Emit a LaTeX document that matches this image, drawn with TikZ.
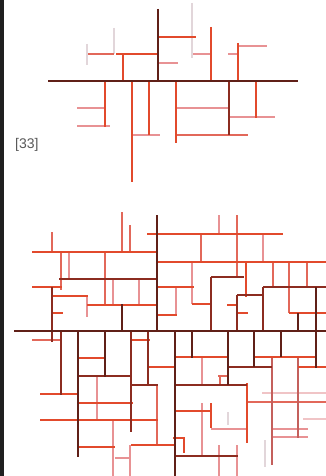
\documentclass[tikz,border=0pt]{standalone}
\usepackage{fontspec}
\newfontfamily\labelfont{Liberation Sans}
\usetikzlibrary{calc}
\definecolor{trunkbrown}{RGB}{96,32,24}
\definecolor{darkred}{RGB}{140,44,32}
\definecolor{brightred}{RGB}{226,74,44}
\definecolor{salmon}{RGB}{226,104,90}
\definecolor{rosebrown}{RGB}{196,96,92}
\definecolor{rosepink}{RGB}{232,146,148}
\definecolor{palepink}{RGB}{240,196,198}
\definecolor{ghost}{RGB}{226,214,218}
\definecolor{stripgray}{RGB}{32,32,32}
\tikzset{
  trunk/.style={trunkbrown,line width=2.7pt},
  branch/.style={darkred,line width=2.4pt},
  twig/.style={brightred,line width=2.3pt},
  shoot/.style={salmon,line width=2.1pt},
  stem/.style={rosebrown,line width=2.1pt},
  leaf/.style={rosepink,line width=1.9pt},
  paleleaf/.style={palepink,line width=1.7pt},
  ghostleaf/.style={ghost,line width=1.3pt}
}

\begin{document}
\begin{tikzpicture}[x=1pt,y=-1pt]
  \useasboundingbox (0,0) rectangle (326,476);
  \fill[white] (0,0) rectangle (326,476);
  \fill[stripgray] (0,0) rectangle (3.5,476);
  \node[font=\labelfont\fontsize{14}{16}\selectfont,text=black!65,anchor=west,inner sep=0pt] (fig33) at (15,145) {[33]};

  % small tree
  \begin{scope}
    \draw[ghostleaf] (192,3)--(192,58) (114,28)--(114,54) (87,44)--(87,65);
    \draw[leaf] (158,63)--(178,63) (193,54)--(211,54) (228,54)--(238,54) (238,46)--(267,46)
      (77,108)--(105,108) (77,126)--(110,126) (132,135)--(160,135)
      (176,108)--(229,108) (229,117)--(275,117);
    \draw[shoot] (88,54)--(114,54) (176,135)--(248,135);
    \draw[twig] (158,37)--(196,37) (116,54)--(158,54) (123,54)--(123,81) (211,27)--(211,81)
      (238,43)--(238,81) (105,81)--(105,127) (132,81)--(132,182) (149,81)--(149,135)
      (176,81)--(176,143) (256,81)--(256,118);
    \draw[branch] (229,81)--(229,135);
    \draw[trunk] (48,81)--(298,81) (158,9)--(158,81);
  \end{scope}

  % large tree
  \begin{scope}
    \draw[ghostleaf] (265,440)--(265,467) (228,412)--(228,425);
    \draw[paleleaf] (262,393)--(326,393) (303,419)--(326,419);
    \draw[leaf] (69,252)--(69,278) (113,279)--(113,305) (139,279)--(139,305) (87,296)--(87,317)
      (219,215)--(219,234) (263,234)--(263,262) (192,262)--(192,304) (176,287)--(176,315)
      (97,376)--(97,420) (113,420)--(113,476) (115,458)--(130,458) (130,445)--(130,476)
      (202,357)--(202,385) (202,403)--(202,457) (211,429)--(247,429) (219,445)--(219,476)
      (237,445)--(237,476) (273,429)--(308,429) (273,437)--(308,437);
    \draw[shoot] (122,212)--(122,252) (130,225)--(130,252) (52,232)--(52,252) (105,252)--(105,305)
      (61,252)--(61,290) (237,215)--(237,278) (201,234)--(201,262) (273,262)--(273,287)
      (289,262)--(289,313) (307,262)--(307,287) (32,340)--(62,340) (157,385)--(157,445)
      (247,402)--(326,402) (218,376)--(228,376) (220,376)--(220,385);
    \draw[stem] (298,357)--(298,438) (272,357)--(272,465);
    \draw[twig] (32,252)--(157,252) (147,234)--(283,234) (157,262)--(326,262) (32,287)--(62,287)
      (52,296)--(88,296) (87,305)--(157,305) (52,313)--(63,313) (157,287)--(194,287)
      (157,315)--(177,315) (192,304)--(210,304) (227,305)--(237,305) (237,313)--(248,313)
      (289,313)--(326,313) (246,262)--(246,297)
      (40,394)--(79,394) (77,358)--(105,358) (77,403)--(133,403) (40,420)--(158,420)
      (131,340)--(150,340) (148,367)--(175,367) (77,447)--(115,447) (131,445)--(175,445)
      (175,357)--(228,357) (247,383)--(247,443) (175,411)--(211,411) (211,403)--(211,428)
      (173,438)--(185,438) (184,438)--(184,453) (254,357)--(317,357) (298,367)--(326,367);
    \draw[branch] (59,279)--(157,279) (211,277)--(244,277) (237,295)--(263,295) (263,287)--(326,287)
      (77,376)--(132,376) (131,385)--(158,385) (175,385)--(247,385) (175,456)--(238,456)
      (228,367)--(272,367)
      (52,287)--(52,342) (211,277)--(211,331) (237,295)--(237,331) (263,287)--(263,331)
      (61,332)--(61,395) (131,332)--(131,432) (148,332)--(148,385);
    \draw[trunk] (122,304)--(122,331) (316,287)--(316,331) (298,313)--(298,331)
      (78,332)--(78,457) (105,332)--(105,377) (175,331)--(175,476) (192,331)--(192,358)
      (228,331)--(228,385) (254,331)--(254,367) (281,331)--(281,357) (316,331)--(316,368);
    \draw[trunk] (14,331)--(326,331) (157,215)--(157,331);
  \end{scope}
\end{tikzpicture}
\end{document}
